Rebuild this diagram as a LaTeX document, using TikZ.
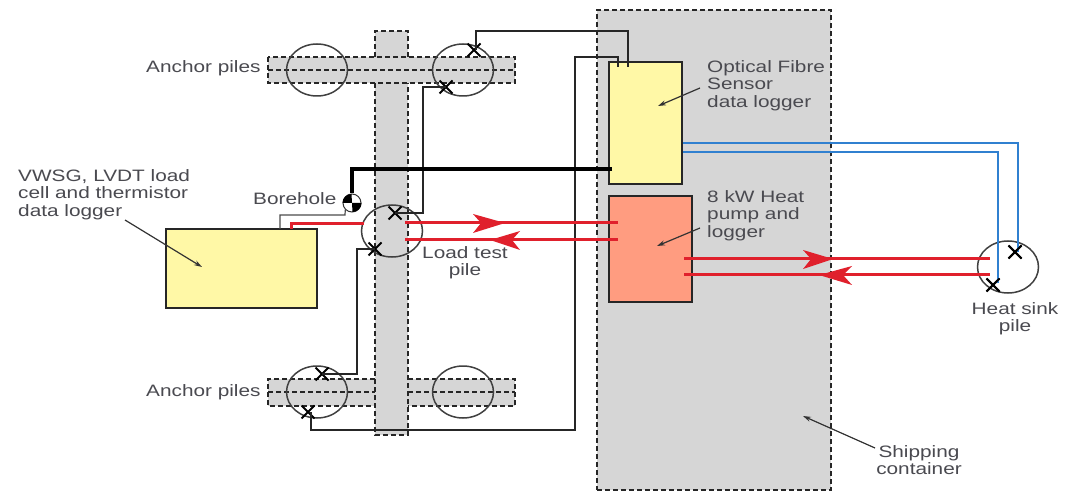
\documentclass[tikz,border=0pt]{standalone}
\usepackage{fontspec}
\setmainfont[FakeStretch=1.26]{Liberation Sans}
\usetikzlibrary{shapes.misc,shapes.geometric,arrows.meta}
\definecolor{txt}{HTML}{4A4A50}
\definecolor{greyfill}{HTML}{D6D6D6}
\definecolor{yel}{HTML}{FFF8A6}
\definecolor{sal}{HTML}{FF9C80}
\definecolor{rd}{HTML}{E0202C}
\definecolor{bl}{HTML}{3080D0}
\tikzset{
 dsh/.style={draw=black!85,line width=1.8pt,dash pattern=on 5pt off 3pt},
 beam/.style={fill=greyfill,draw=none},
 pile/.style={ellipse,draw=black!75,line width=1.5pt,inner sep=0pt,minimum width=61pt,minimum height=52pt},
 wire/.style={draw=black!85,line width=1.6pt},
 heavy wire/.style={draw=black,line width=3.2pt},
 rwire/.style={draw=rd,line width=3pt},
 bwire/.style={draw=bl,line width=2.2pt},
 xm/.style={cross out,draw=black,line width=2pt,inner sep=0pt,minimum size=11pt},
 box/.style={draw=black!85,line width=1.8pt,inner sep=0pt},
 lab/.style={text=txt,font=\fontsize{16.5}{17.5}\selectfont,align=left,inner sep=0pt},
 note/.style={draw=black!80,line width=1.2pt,-{Stealth[length=8pt,width=5pt]}},
 rhead/.style={fill=rd,draw=none},
}
\begin{document}
\begin{tikzpicture}[x=1pt,y=-1pt]
\useasboundingbox (0,0) rectangle (1073,494);
\fill[white] (0,0) rectangle (1073,494);
% container
\node[dsh,fill=greyfill,minimum width=234pt,minimum height=480pt,inner sep=0pt] (cont) at (714,250) {};
% beams
\fill[beam] (268,57) rectangle (515,83);
\fill[beam] (268,379) rectangle (515,406);
\fill[beam] (375,31) rectangle (408,435);
\draw[dsh] (375,57) -- (375,31) -- (408,31) -- (408,57);
\draw[dsh] (375,83) -- (375,435) -- (408,435) -- (408,83);
\draw[dsh] (268,57) rectangle (515,83);
\draw[dsh] (268,70) -- (515,70);
\draw[dsh] (375,379) -- (268,379) -- (268,406) -- (375,406);
\draw[dsh] (408,379) -- (515,379) -- (515,406) -- (408,406);
\draw[dsh] (268,392) -- (375,392);
\draw[dsh] (408,392) -- (515,392);
% piles
\node[pile] (atl) at (317,70) {};
\node[pile] (atr) at (463,70) {};
\node[pile] (abl) at (317,392) {};
\node[pile] (abr) at (463,392) {};
\node[pile] (load) at (392,231) {};
\node[pile] (sink) at (1008,267) {};
% boxes
\node[box,fill=yel,minimum width=73pt,minimum height=122pt] (ofs) at (645.5,123) {};
\node[box,fill=sal,minimum width=83pt,minimum height=106pt] (hp) at (650.5,249) {};
\node[box,fill=yel,minimum width=151pt,minimum height=79pt] (vw) at (241.5,268.5) {};
% crosses
\node[xm] (x1) at (474,50) {};
\node[xm] (x2) at (446,87) {};
\node[xm] (x3) at (395,213) {};
\node[xm] (x4) at (375,249) {};
\node[xm] (x5) at (322,374) {};
\node[xm] (x6) at (308,412) {};
\node[xm] (x7) at (1015,252) {};
\node[xm] (x8) at (993,285) {};
% ports
\coordinate (p1) at (628,67);
\coordinate (p2) at (618,67);
\coordinate (p3) at (612,169);
% wires
\draw[wire] ([xshift=2pt]x1.center) -- (476,31) -- (628,31) -- (p1);
\draw[wire] ([xshift=3pt]x6.center) -- (311,430) -- (575,430) -- (575,57) -- (618,57) -- (p2);
\draw[wire] (x2.center) -- (423,87) -- (423,213) -- (x3.center);
\draw[wire] (x4.center) -- (357,249) -- (357,374) -- (x5.center);
% borehole
\node[circle,draw=black!80,line width=1pt,fill=white,minimum size=18pt,inner sep=0pt] (bh) at (352,203) {};
\fill[black] (bh.center) -- (bh.west) arc[start angle=180,end angle=90,radius=9pt] -- cycle;
\fill[black] (bh.center) -- (bh.east) arc[start angle=0,end angle=-90,radius=9pt] -- cycle;
\draw[heavy wire] (p3) -- (352,169) -- (bh.north);
\draw[black!70,line width=1.2pt] (bh.south west) -- (345,215) -- (280,215) -- (280,229);
% red
\coordinate (r1) at (405,223);\coordinate (r2) at (405,240);
\coordinate (r3) at (618,223);\coordinate (r4) at (618,240);
\coordinate (r5) at (684,259);\coordinate (r6) at (684,275);
\coordinate (r7) at (990,259);\coordinate (r8) at (990,275);
\draw[rwire] (291,229) -- (291,224) -- (364,224);
\draw[rwire] (r1) -- (r3);
\draw[rwire] (r2) -- (r4);
\draw[rwire] (r5) -- (r7);
\draw[rwire] (r6) -- (r8);
\fill[rhead] (505,223) -- (473,214) -- (481,223) -- (473,233) -- cycle;
\fill[rhead] (490,240) -- (520,231) -- (512,240) -- (520,250) -- cycle;
\fill[rhead] (833,259) -- (803,250) -- (811,259) -- (803,269) -- cycle;
\fill[rhead] (819,275) -- (852,266) -- (843,275) -- (852,285) -- cycle;
% blue
\draw[bwire] (ofs.east |- 0,143) -- (1018,143) -- ([xshift=3pt]x7.center);
\draw[bwire] (ofs.east |- 0,152) -- (998,152) -- (998,283);
\node[xm] at (x7) {};
\node[xm] at (x8) {};
% labels
\node[lab,anchor=west] (t1) at (146,68) {Anchor piles};
\node[lab,anchor=west] (t2) at (146,392) {Anchor piles};
\node[lab,anchor=west] (t3) at (253,199) {Borehole};
\node[lab,anchor=north west] (t4) at (18,169) {VWSG, LVDT load\\cell and thermistor\\data logger};
\node[lab,anchor=north,align=center] (t5) at (465,246) {Load test\\pile};
\node[lab,anchor=north west] (t6) at (707,60) {Optical Fibre\\Sensor\\data logger};
\node[lab,anchor=north west] (t7) at (707,190) {8 kW Heat\\pump and\\logger};
\node[lab,anchor=north,align=center] (t8) at (1015,302) {Heat sink\\pile};
\node[lab,anchor=north,align=center] (t9) at (919,445) {Shipping\\container};
% pointers
\draw[note] (700,88) -- (658,106);
\draw[note] (700,228) -- (657,246);
\draw[note] (125,220) -- (202,267);
\draw[note] (875,448) -- (803,416);
\end{tikzpicture}
\end{document}
